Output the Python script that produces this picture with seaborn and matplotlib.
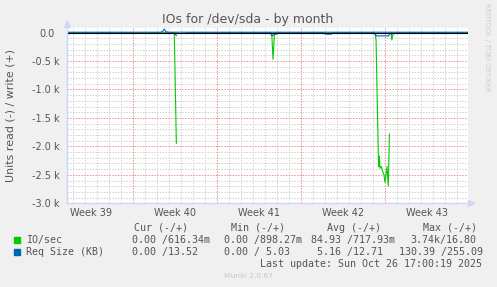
import matplotlib
matplotlib.use("Agg")
import matplotlib.pyplot as plt
import matplotlib.transforms as mtransforms
from matplotlib.patches import Rectangle
import pandas as pd
import seaborn as sns

# ---------------- data ----------------
title = "IOs for /dev/sda - by month"
ylabel = "Units read (-) / write (+)"
week_labels = ["Week 39", "Week 40", "Week 41", "Week 42", "Week 43"]
week_centers = [-3.5, 3.5, 10.5, 17.5, 24.5]      # days since Mon 29 Sep
week_bounds = [0, 7, 14, 21]
ytick_vals = [0, -500, -1000, -1500, -2000, -2500, -3000]
ytick_labels = ["0.0", "-0.5 k", "-1.0 k", "-1.5 k", "-2.0 k", "-2.5 k", "-3.0 k"]

# IO/sec, read side (negative); None = gap in the data
io_days = [-5.5, -5.0, -4.2, -3.4, -2.6, -1.8, -1.0, -0.2, 0.6, 1.4, 2.2, 2.8, 3.2, 3.46, 3.63, None,
           4.45, 5.2, 6.0, 6.8, 7.6, 8.4, 9.2, 10.0, 10.8, 11.4, 11.57, 11.68, 11.79, 12.2, 13.0, 13.8,
           14.6, 15.4, 15.95, 16.1, 16.5, 16.65, 17.0, 17.8, 18.6, 19.4, 19.9, 20.17, 20.26, 20.45,
           20.48, 20.53, 20.59, 20.70, 20.82, 20.92, 21.0, 21.09, 21.17, 21.28, 21.37, None,
           21.51, 21.57, 21.65, 21.76, 22.4, 23.2, 24.0, 24.8, 25.6, 26.4, 27.2, 27.9]
io_read = [-3, -4, -2, -5, -3, -4, -2, -3, -5, -4, -3, -6, -4, -5, -1950, None,
           -4, -3, -5, -2, -4, -3, -5, -4, -3, -4, -6, -471, -44, -3, -4, -5,
           -3, -4, -3, -15, -15, -3, -4, -3, -5, -4, -3, -14, -132, -2182,
           -2357, -2169, -2385, -2357, -2445, -2503, -2631, -2485, -2357, -2696, -1783, None,
           -3, -132, -44, -15, -4, -3, -5, -4, -3, -4, -5, -3]

# Req Size (KB), read side (negative)
req_days = [-5.5, -5.3, -5.1, -4.9, None, -4.3, -3.8, -3.3, -2.8, -2.3, -1.8, -1.3, -0.8, -0.3, 0.0, None,
            1.5, 2.0, 2.4, 2.9, 3.3, 3.5, 3.63, None,
            4.5, 5.0, 5.5, 6.0, 6.5, 7.0, 7.5, 8.0, 8.5, 9.0, 9.5, 10.0, 10.5, 11.0, 11.45, 11.6,
            11.72, 11.85, 12.3, 12.8, 13.3, 13.8, 14.3, 14.8, 15.3, 15.8, 16.1, 16.5, 16.8, 17.3,
            17.8, 18.3, 18.8, 19.3, 19.8, 20.12, 20.3, 21.3, 21.45, 21.55, 21.65, 21.8, 22.3, 22.8,
            23.3, 23.8, 24.3, 24.8, 25.3, 25.8, 26.3, 26.8, 27.3, 27.9]
req_read = [-8, -22, -8, -6, None, -16, -6, -17, -7, -16, -6, -17, -7, -16, -7, None,
            -16, -7, -17, -6, -16, -8, -55, None,
            -17, -6, -16, -7, -17, -6, -16, -7, -17, -6, -16, -7, -16, -6, -10, -58,
            -40, -8, -17, -6, -16, -7, -17, -6, -16, -7, -28, -28, -6, -16,
            -7, -17, -6, -16, -7, -5, -60, -60, -5, -30, -5, -16, -6, -17,
            -7, -16, -6, -17, -7, -16, -6, -16, -7, -15]

# Req Size (KB), write side (positive)
req_w_days = [-5.5, 2.3, 2.5, 2.63, 2.75, 3.0, 27.9]
req_write = [5, 5, 20, 60, 15, 5, 5]

# legend table
legend_names = ["IO/sec", "Req Size (KB)"]
series_colors = ["#00cc00", "#0066b3"]
col_headers = ["Cur (-/+)", "Min (-/+)", "Avg (-/+)", "Max (-/+)"]
cur_read = ["0.00", "0.00"]
cur_write = ["616.34m", "13.52"]
min_read = ["0.00", "0.00"]
min_write = ["898.27m", "5.03"]
avg_read = ["84.93", "5.16"]
avg_write = ["717.93m", "12.71"]
max_read = ["3.74k", "130.39"]
max_write = ["16.80", "255.09"]
last_update = "Last update: Sun Oct 26 17:00:19 2025"
munin_version = "Munin 2.0.67"
rrd_credit = "RRDTOOL / TOBI OETIKER"


def to_frame(days, vals):
    rows, seg = [], 0
    for d, v in zip(days, vals):
        if d is None:
            seg += 1
            continue
        rows.append({"day": d, "value": v, "seg": seg})
    return pd.DataFrame(rows)


# ---------------- figure ----------------
sns.set_style("white")
plt.rcParams["font.family"] = ["DejaVu Sans"]
W, H = 497, 287
BG = "#f0f0f0"
TXT = "#555555"
fig = plt.figure(figsize=(W / 100, H / 100), dpi=100, facecolor=BG)
L, R_, T, B = 66.7, 468.3, 28.3, 203.3
ax = fig.add_axes([L / W, 1 - B / H, (R_ - L) / W, (B - T) / H])
ax.set_facecolor("white")

LW = 0.8
sns.lineplot(data=to_frame(io_days, io_read), x="day", y="value", units="seg",
             estimator=None, color=series_colors[0], lw=LW, ax=ax, legend=False, zorder=4)
sns.lineplot(data=to_frame(req_days, req_read), x="day", y="value", units="seg",
             estimator=None, color=series_colors[1], lw=LW, ax=ax, legend=False, zorder=5)
sns.lineplot(data=to_frame(req_w_days, req_write), x="day", y="value", units="seg",
             estimator=None, color=series_colors[1], lw=LW, ax=ax, legend=False, zorder=5)
ax.axhline(0, color="black", lw=0.8, zorder=6)

ax.set_xlim(-5.5, 27.94)
ax.set_ylim(-3000, 74)

# grid
ax.set_xticks(week_centers, labels=week_labels)
ax.set_xticks([d for d in range(-5, 28) if d not in week_bounds], minor=True)
ax.set_yticks(ytick_vals, labels=ytick_labels)
ax.set_yticks([v for v in range(-2900, 1, 100) if v not in ytick_vals], minor=True)
MAJ = "#ec8e8e"
dot = (0, (1.4, 1.4))
ax.grid(False)
ax.grid(True, which="minor", axis="both", color="#d0d0d0", lw=0.72, linestyle=dot)
for v in ytick_vals[:-1]:
    ax.axhline(v, color=MAJ, zorder=0.7, lw=0.72, linestyle=dot)
for b in week_bounds:
    ax.axvline(b, color=MAJ, zorder=0.7, lw=0.72, linestyle=dot)
ax.set_axisbelow(True)

ax.tick_params(axis="both", which="both", length=0, labelsize=7, colors=TXT)
ax.tick_params(axis="x", pad=3.5)
ax.tick_params(axis="y", pad=5.3)
ax.yaxis.get_major_ticks()[0].set_pad(8.9)
ax.set_xlabel("")
ax.set_ylabel(ylabel, fontsize=7.9, color=TXT)
ax.yaxis.set_label_coords((15.5 - L) / (R_ - L), 0.5)

for s in ["top", "right"]:
    ax.spines[s].set_visible(False)
for s in ["left", "bottom"]:
    ax.spines[s].set_color("#cfd6f8")
    ax.spines[s].set_linewidth(1.0)
    ax.spines[s].set_zorder(7)

# axis arrows
up = mtransforms.offset_copy(ax.transAxes, fig=fig, x=0, y=4, units="dots")
rt = mtransforms.offset_copy(ax.transAxes, fig=fig, x=3, y=0, units="dots")
ax.plot([0], [1], marker="^", ms=5, color="#cfd6f8", transform=up, clip_on=False)
ax.plot([1], [0], marker=">", ms=5, color="#cfd6f8", transform=rt, clip_on=False)

# texts
fig.text(248 / W, 1 - 19.3 / H, title, ha="center", va="center", fontsize=9, color=TXT)
fig.text(486.5 / W, 1 - 47 / H, rrd_credit, ha="center", va="center", rotation=270,
         fontsize=5, color="#cccccc")

mono = dict(family="DejaVu Sans Mono", fontsize=7.2, color=TXT, va="center")
CH = 6.0
y_head, y_rows, y_last = 228.0, [239.8, 252.0], 264.0
head_x = [134.3, 230.7, 327.3, 422.7]
read_right = [155.7, 248.3, 340.7, 434.7]
for hx, h in zip(head_x, col_headers):
    fig.text(hx / W, 1 - y_head / H, h, ha="left", **mono)

cols = [(cur_read, cur_write), (min_read, min_write), (avg_read, avg_write), (max_read, max_write)]
for i, name in enumerate(legend_names):
    y = y_rows[i]
    fig.patches.append(Rectangle((14 / W, 1 - (y + 2.8) / H), 5.6 / W, 5.6 / H,
                                 transform=fig.transFigure, color=series_colors[i]))
    fig.text(26.3 / W, 1 - y / H, name, ha="left", **mono)
    for (rd, wr), rr in zip(cols, read_right):
        r = rd[i]
        num = r.rstrip("kmM")
        sfx = r[len(num):]
        w = wr[i]
        wnum = w.rstrip("kmM")
        # write value right-aligned in a 5-char field after the slash
        cell = num + (sfx if sfx else " ") + "/" + " " * max(0, 5 - len(wnum)) + w
        fig.text((rr - CH * len(num)) / W, 1 - y / H, cell, ha="left", **mono)

fig.text(482.3 / W, 1 - y_last / H, last_update, ha="right", **mono)
fig.text(248 / W, 1 - 276 / H, munin_version, ha="center", va="center", fontsize=5.4,
         color="#c8c8c8")

fig.savefig("out.png", dpi=100, facecolor=BG)
